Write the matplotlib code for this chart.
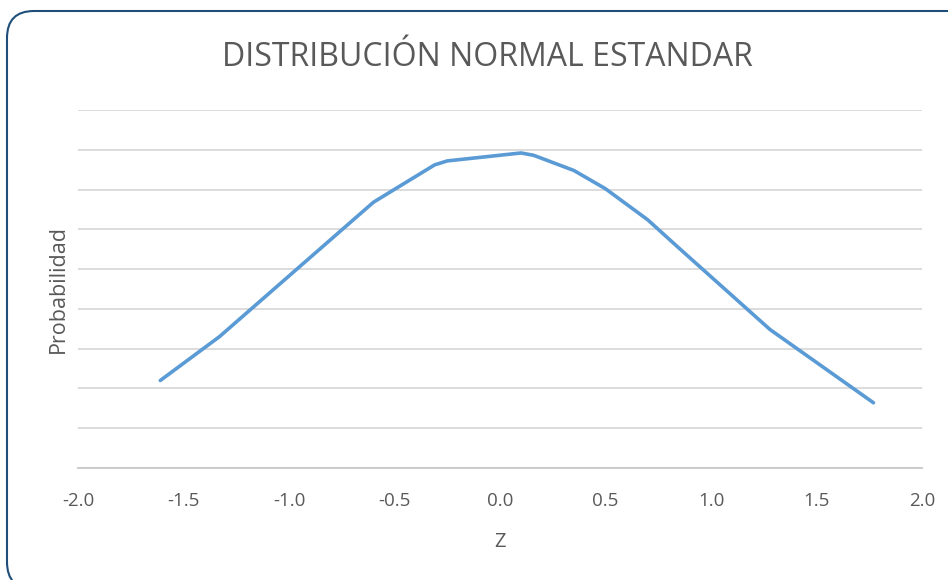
import matplotlib.pyplot as plt
from matplotlib.patches import FancyBboxPatch

# puntos de la curva (Z, densidad)
z_vals = [-1.61, -1.33, -0.60, -0.52, -0.31, -0.25, 0.10, 0.16, 0.35, 0.50, 0.70, 0.85, 1.28, 1.77]
prob_vals = [0.110, 0.165, 0.334, 0.347, 0.381, 0.386, 0.396, 0.393, 0.374, 0.351, 0.312, 0.276, 0.174, 0.082]
x_ticks = [-2.0, -1.5, -1.0, -0.5, 0.0, 0.5, 1.0, 1.5, 2.0]

plt.rcParams['font.family'] = ['Open Sans', 'DejaVu Sans']
txt_color = '#595959'

fig = plt.figure(figsize=(9.48, 5.8), dpi=100)

# marco redondeado del grafico (en pulgadas, se sale por la derecha y por abajo)
frame = FancyBboxPatch((0.07, -0.09), 10.0, 5.78,
                       boxstyle="round,pad=0,rounding_size=0.27",
                       transform=fig.dpi_scale_trans, fill=False,
                       edgecolor='#1f4e79', linewidth=1.5, clip_on=False)
fig.patches.append(frame)

ax = fig.add_axes([78 / 948, 1 - 468 / 580, 844 / 948, 358 / 580])
ax.plot(z_vals, prob_vals, color='#5b9bd5', linewidth=2.6, solid_joinstyle='round',
        solid_capstyle='round', zorder=3)

ax.set_xlim(-2.0, 2.0)
ax.set_ylim(0, 0.45)
ax.set_xticks(x_ticks)
ax.set_xticklabels([f"{t:.1f}" for t in x_ticks])
ax.set_yticks([i * 0.05 for i in range(10)])
ax.set_yticklabels([])
ax.grid(axis='y', color='#d9d9d9', linewidth=1.3)
ax.set_axisbelow(True)
ax.tick_params(length=0, labelsize=13.5, colors=txt_color, pad=17)
for side in ['top', 'right', 'left']:
    ax.spines[side].set_visible(False)
ax.spines['bottom'].set_color('#c8c8c8')
ax.spines['bottom'].set_linewidth(1.3)

ax.set_xlabel('Z', fontsize=14.5, color=txt_color, labelpad=16)
ax.set_ylabel('Probabilidad', fontsize=15.5, color=txt_color)
ax.yaxis.set_label_coords(-0.011, 0.5)

fig.text(487 / 948, 1 - 57 / 580, 'DISTRIBUCIÓN NORMAL ESTANDAR', ha='center', va='center',
         fontsize=23, color=txt_color)

fig.savefig('out.png', dpi=100)
